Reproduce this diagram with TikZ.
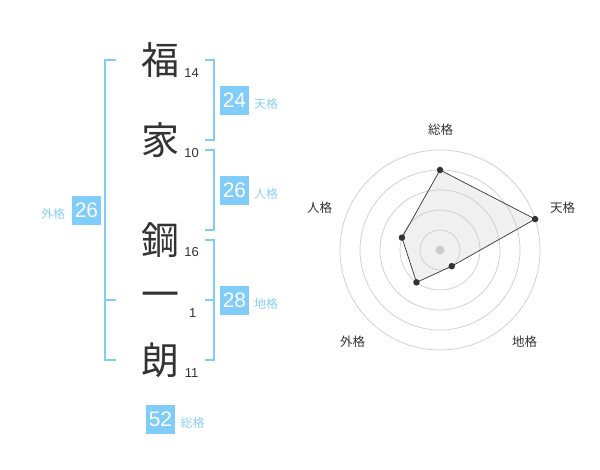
\documentclass[tikz,border=0pt]{standalone}
\usepackage{fontspec}
\setmainfont{Liberation Sans}
\newfontfamily\jfont{Noto Sans CJK JP}
\definecolor{kakublue}{HTML}{80CCFA}
\definecolor{kakutext}{HTML}{8CCFF2}
\definecolor{inkgray}{HTML}{333333}
\begin{document}
\begin{tikzpicture}[x=1pt,y=-1pt,
    kanji/.style={font=\jfont\fontsize{38}{38}\selectfont,text=inkgray,inner sep=0pt},
    strokes/.style={font=\fontsize{13}{13}\selectfont,text=inkgray,inner sep=0pt},
    kakubox/.style={fill=kakublue,text=white,minimum size=29pt,inner sep=0pt,font=\fontsize{21}{21}\selectfont},
    kakulabel/.style={text=kakutext,font=\jfont\fontsize{12}{12}\selectfont,inner sep=0pt},
    bracket/.style={draw=kakublue,line width=2pt},
    ring/.style={draw=black!20,line width=.7pt},
    axislabel/.style={text=inkgray,font=\jfont\fontsize{12.5}{12.5}\selectfont,inner sep=0pt},
    dot/.style={circle,fill=inkgray,inner sep=0pt,minimum size=6.5pt}]
    \useasboundingbox (0,0) rectangle (600,470);
    % name characters and stroke counts
    \node[kanji] (c1) at (160,60) {福};
    \node[kanji] (c2) at (160,140) {家};
    \node[kanji] (c3) at (160,240) {鋼};
    \node[kanji] (c4) at (160,300) {一};
    \node[kanji] (c5) at (160,360) {朗};
    \node[strokes] (n1) at (191.7,72.7) {14};
    \node[strokes] (n2) at (191.7,152.7) {10};
    \node[strokes] (n3) at (191.7,252.3) {16};
    \node[strokes] (n4) at (192.7,312.7) {1};
    \node[strokes] (n5) at (191.7,372.7) {11};
    % brackets
    \draw[bracket] (205,60) -- (214,60) -- (214,140) -- (205,140);
    \draw[bracket] (205,150) -- (214,150) -- (214,230) -- (205,230);
    \draw[bracket] (205,240) -- (214,240) -- (214,360) -- (205,360);
    \draw[bracket] (205,300) -- (214,300);
    \draw[bracket] (116,60) -- (105,60) -- (105,360) -- (116,360);
    \draw[bracket] (105,300) -- (116,300);
    % scores
    \node[kakubox] (ten) at (234.5,100.5) {24};
    \node[kakulabel] (tenl) at (266,104) {天格};
    \node[kakubox] (jin) at (234.5,190.5) {26};
    \node[kakulabel] (jinl) at (266,194) {人格};
    \node[kakubox] (chi) at (234.5,300.5) {28};
    \node[kakulabel] (chil) at (266,304) {地格};
    \node[kakubox] (gai) at (86.5,210.5) {26};
    \node[kakulabel] (gail) at (53,214) {外格};
    \node[kakubox] (sou) at (160.5,419) {52};
    \node[kakulabel] (soul) at (192.5,423) {総格};
    % radar chart
    \coordinate (o) at (440,250);
    \coordinate (ps) at ({440+80*cos(90)},{250-80*sin(90)});
    \coordinate (pt) at ({440+100*cos(18)},{250-100*sin(18)});
    \coordinate (pc) at ({440+20*cos(-54)},{250-20*sin(-54)});
    \coordinate (pg) at ({440+40*cos(-126)},{250-40*sin(-126)});
    \coordinate (pj) at ({440+40*cos(162)},{250-40*sin(162)});
    \fill[black!6] (ps) -- (pt) -- (pc) -- (pg) -- (pj) -- cycle;
    \foreach \r in {20,40,...,100}
        \draw[ring] (o) circle[radius=\r];
    \draw[draw=inkgray,line width=.7pt] (ps) -- (pt) -- (pc) -- (pg) -- (pj) -- cycle;
    \fill[black!20] (o) circle[radius=4.5];
    \foreach \p in {ps,pt,pc,pg,pj}
        \node[dot] at (\p) {};
    \node[axislabel] (as) at (440.5,130) {総格};
    \node[axislabel] (at) at (562.5,208) {天格};
    \node[axislabel] (aj) at (319.5,208) {人格};
    \node[axislabel] (ag) at (352.5,342) {外格};
    \node[axislabel] (ac) at (524.5,342) {地格};
\end{tikzpicture}
\end{document}
